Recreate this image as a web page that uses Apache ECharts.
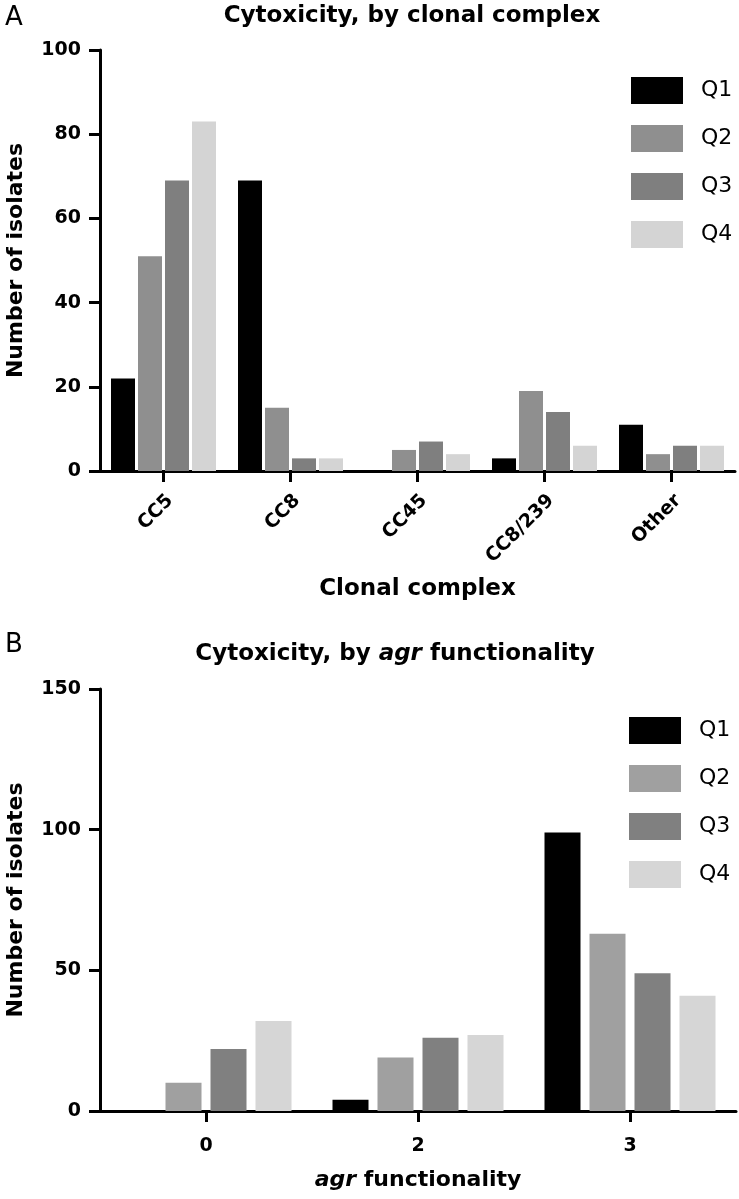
<!DOCTYPE html>
<html>
<head>
<meta charset="utf-8">
<script src="https://cdn.jsdelivr.net/npm/echarts/dist/echarts.min.js"></script>
<style>
  html, body { margin: 0; padding: 0; background: #fff; }
  #chart { width: 739px; height: 1199px; }
</style>
</head>
<body>
<div id="chart"></div>
<script>
// panel A: by clonal complex
var categoriesA = ["CC5", "CC8", "CC45", "CC8/239", "Other"];
var q1A = [22, 69, 0, 3, 11];
var q2A = [51, 15, 5, 19, 4];
var q3A = [69, 3, 7, 14, 6];
var q4A = [83, 3, 4, 6, 6];
var ticksA = [0, 20, 40, 60, 80, 100];

// panel B: by agr functionality
var categoriesB = ["0", "2", "3"];
var q1B = [0, 4, 99];
var q2B = [10, 19, 63];
var q3B = [22, 26, 49];
var q4B = [32, 27, 41];
var ticksB = [0, 50, 100, 150];

var seriesNames = ["Q1", "Q2", "Q3", "Q4"];
var coloursA = ["#000000", "#8f8f8f", "#7f7f7f", "#d4d4d4"];
var coloursB = ["#000000", "#a0a0a0", "#808080", "#d6d6d6"];

var FONT = "DejaVu Sans";

function valueAxis(gridIndex, ticks) {
  return {
    gridIndex: gridIndex,
    type: "value",
    min: ticks[0],
    max: ticks[ticks.length - 1],
    interval: ticks[1] - ticks[0],
    name: "Number of isolates",
    nameLocation: "middle",
    nameGap: 73,
    nameMoveOverlap: false,
    nameTextStyle: { fontFamily: FONT, fontWeight: "bold", fontSize: 22, color: "#000" },
    axisLine: { show: true, lineStyle: { color: "#000", width: 3 } },
    axisTick: { show: true, length: 11, lineStyle: { color: "#000", width: 3 } },
    axisLabel: { fontFamily: FONT, fontWeight: "bold", fontSize: 19, color: "#000", margin: 19 },
    splitLine: { show: false }
  };
}

function catAxis(gridIndex, cats, extra) {
  var ax = {
    gridIndex: gridIndex,
    type: "category",
    data: cats,
    nameLocation: "middle",
    nameMoveOverlap: false,
    axisLine: { show: true, lineStyle: { color: "#000", width: 3 } },
    axisTick: { show: true, alignWithLabel: true, length: 11, lineStyle: { color: "#000", width: 3 } },
    axisLabel: { fontFamily: FONT, fontWeight: "bold", color: "#000", interval: 0 },
    splitLine: { show: false }
  };
  for (var k in extra) ax[k] = extra[k];
  return ax;
}

function barSeries(idx, values, colour, width, gap, axisIdx) {
  return {
    name: seriesNames[idx],
    type: "bar",
    xAxisIndex: axisIdx,
    yAxisIndex: axisIdx,
    data: values,
    barWidth: width,
    barGap: gap,
    itemStyle: { color: colour },
    animation: false
  };
}

var seriesA = [q1A, q2A, q3A, q4A].map(function (d, i) {
  return barSeries(i, d, coloursA[i], 24, "12.5%", 0);
});
var seriesB = [q1B, q2B, q3B, q4B].map(function (d, i) {
  return barSeries(i, d, coloursB[i], 36, "25%", 1);
});

function legend(left, top, colours) {
  return {
    orient: "vertical",
    left: left,
    top: top,
    icon: "rect",
    itemWidth: 52,
    itemHeight: 27,
    itemGap: 21,
    selectedMode: false,
    data: seriesNames.map(function (n, i) {
      return { name: n, itemStyle: { color: colours[i] } };
    }),
    textStyle: { fontFamily: FONT, fontSize: 22, color: "#000", padding: [0, 0, 0, 13] }
  };
}

var italicRich = { i: { fontFamily: FONT, fontWeight: "bold", fontStyle: "italic", fontSize: 23, color: "#000" } };

var chart = echarts.init(document.getElementById("chart"));
chart.setOption({
  backgroundColor: "#fff",
  animation: false,
  title: [
    { text: "A", left: 0, top: 0, textStyle: { fontFamily: FONT, fontWeight: "normal", fontSize: 26, color: "#000" } },
    { text: "Cytoxicity, by clonal complex", left: 407, top: 0, textAlign: "center",
      textStyle: { fontFamily: FONT, fontWeight: "bold", fontSize: 23, color: "#000" } },
    { text: "B", left: 0, top: 627, textStyle: { fontFamily: FONT, fontWeight: "normal", fontSize: 26, color: "#000" } },
    { text: "Cytoxicity, by {i|agr} functionality", left: 390, top: 638, textAlign: "center",
      textStyle: { fontFamily: FONT, fontWeight: "bold", fontSize: 23, color: "#000", rich: italicRich } }
  ],
  legend: [legend(626, 72, coloursA), legend(624, 712, coloursB)],
  grid: [
    { left: 100, top: 50, right: 4, bottom: 728, containLabel: false, outerBoundsMode: "none" },
    { left: 100, top: 689, right: 3, bottom: 88, containLabel: false, outerBoundsMode: "none" }
  ],
  xAxis: [
    catAxis(0, categoriesA, {
      name: "Clonal complex",
      nameGap: 107,
      nameTextStyle: { fontFamily: FONT, fontWeight: "bold", fontSize: 23, color: "#000" },
      axisLabel: { fontFamily: FONT, fontWeight: "bold", fontSize: 19, color: "#000", interval: 0,
        rotate: 45, align: "right", verticalAlign: "top", margin: 20 }
    }),
    catAxis(1, categoriesB, {
      name: "{i|agr} functionality",
      nameGap: 58,
      nameTextStyle: { fontFamily: FONT, fontWeight: "bold", fontSize: 22, color: "#000",
        rich: { i: { fontFamily: FONT, fontWeight: "bold", fontStyle: "italic", fontSize: 22, color: "#000" } } },
      axisLabel: { fontFamily: FONT, fontWeight: "bold", fontSize: 19, color: "#000", interval: 0, margin: 26 }
    })
  ],
  yAxis: [valueAxis(0, ticksA), valueAxis(1, ticksB)],
  series: seriesA.concat(seriesB)
});
</script>
</body>
</html>
